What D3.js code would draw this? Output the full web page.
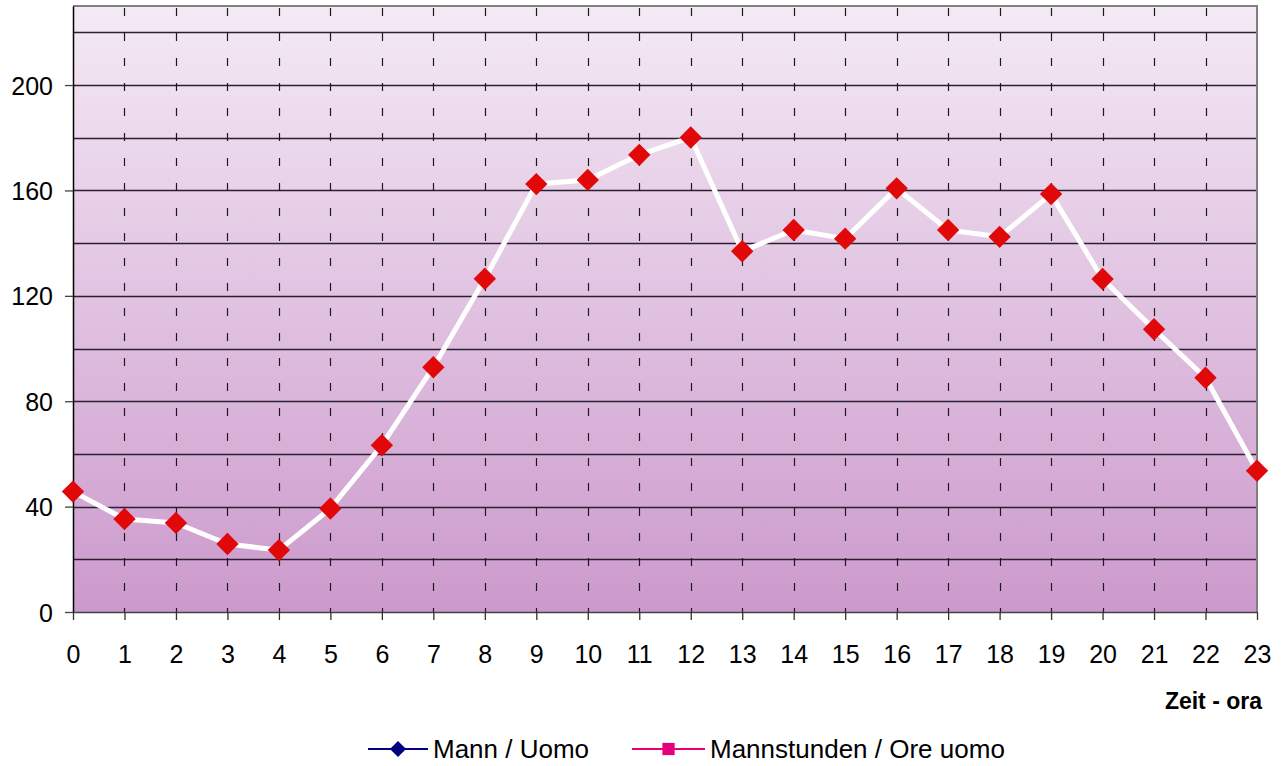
<!DOCTYPE html>
<html>
<head>
<meta charset="utf-8">
<script src="https://cdn.jsdelivr.net/npm/d3@7"></script>
<style>
  html, body { margin: 0; padding: 0; background: #ffffff; }
  svg { display: block; font-family: "Liberation Sans", Arial, sans-serif; }
</style>
</head>
<body>
<svg id="chart" width="1286" height="766"></svg>
<script>
// Hours of the day (x categories)
const hours = d3.range(0, 24).map(String);
// Values per hour
const values = [45.7, 35.3, 33.8, 25.8, 23.5, 39.3, 63.3, 92.9, 126.5, 162.4, 164, 173.5,
                180.1, 136.9, 145, 141.7, 160.8, 145, 142.4, 158.6, 126.4, 107.3, 88.9, 53.6];
// Y axis labels and gridlines
const yTickLabels = [0, 40, 80, 120, 160, 200];
const yGridValues = [20, 40, 60, 80, 100, 120, 140, 160, 180, 200, 220];
const legendItems = [
  { label: "Mann / Uomo", color: "#000080", shape: "diamond" },
  { label: "Mannstunden / Ore uomo", color: "#e6007e", shape: "square" }
];

const svg = d3.select("#chart");
const plot = { left: 73, right: 1257, top: 6, bottom: 612 };

const x = d3.scalePoint().domain(hours).range([plot.left, plot.right]);
const y = d3.scaleLinear().domain([0, 230]).range([plot.bottom, plot.top]);

// Background gradient
const defs = svg.append("defs");
const grad = defs.append("linearGradient")
  .attr("id", "bg").attr("x1", 0).attr("y1", 0).attr("x2", 0).attr("y2", 1);
grad.append("stop").attr("offset", "0%").attr("stop-color", "#f4eaf5");
grad.append("stop").attr("offset", "100%").attr("stop-color", "#cc99cc");

svg.append("rect")
  .attr("x", plot.left).attr("y", plot.top)
  .attr("width", plot.right - plot.left).attr("height", plot.bottom - plot.top)
  .attr("fill", "url(#bg)");

// Horizontal gridlines
svg.append("g").selectAll("line").data(yGridValues).join("line")
  .attr("x1", plot.left).attr("x2", plot.right)
  .attr("y1", d => Math.round(y(d)) + 0.5).attr("y2", d => Math.round(y(d)) + 0.5)
  .attr("stroke", "#2a2030").attr("stroke-width", 1.3);

// Vertical dashed gridlines
svg.append("g").selectAll("line").data(hours.slice(1, -1)).join("line")
  .attr("x1", d => Math.round(x(d)) + 0.5).attr("x2", d => Math.round(x(d)) + 0.5)
  .attr("y1", plot.top + 2).attr("y2", plot.bottom)
  .attr("stroke", "#1a1a1a").attr("stroke-width", 1.2)
  .attr("stroke-dasharray", "8,17");

// Frame: top and right in grey
svg.append("path")
  .attr("d", `M${plot.left},${plot.top}H${plot.right}V${plot.bottom}`)
  .attr("fill", "none").attr("stroke", "#808080").attr("stroke-width", 2);

// Y axis
const yAxis = d3.axisLeft(y).tickValues(yTickLabels).tickSize(8).tickSizeOuter(0).tickPadding(12);
const gy = svg.append("g").attr("transform", `translate(${plot.left},0)`).call(yAxis);
gy.select(".domain").attr("stroke", "#000").attr("stroke-width", 1.5);
gy.selectAll(".tick line").attr("stroke", "#444").attr("stroke-width", 1.3);
gy.selectAll(".tick text").attr("font-size", 25).attr("fill", "#000")
  .attr("font-family", "Liberation Sans, Arial, sans-serif").attr("dy", "0.36em");

// X axis
const xAxis = d3.axisBottom(x).tickSize(8).tickSizeOuter(0).tickPadding(25);
const gx = svg.append("g").attr("transform", `translate(0,${plot.bottom})`).call(xAxis);
gx.select(".domain").attr("stroke", "#444").attr("stroke-width", 1.5);
gx.selectAll(".tick line").attr("stroke", "#333").attr("stroke-width", 1.3);
gx.selectAll(".tick text").attr("font-size", 25).attr("fill", "#000")
  .attr("font-family", "Liberation Sans, Arial, sans-serif");

// X axis title
svg.append("text")
  .attr("x", 1262).attr("y", 709)
  .attr("text-anchor", "end")
  .attr("font-size", 23).attr("font-weight", "bold")
  .text("Zeit - ora");

// Data line
const line = d3.line().x((d, i) => x(hours[i])).y(d => y(d));
svg.append("path")
  .datum(values)
  .attr("d", line)
  .attr("fill", "none").attr("stroke", "#ffffff").attr("stroke-width", 5)
  .attr("stroke-linejoin", "round");

// Diamond markers
const diamond = d3.symbol().type(d3.symbolSquare).size(250);
svg.append("g").selectAll("path").data(values).join("path")
  .attr("d", diamond)
  .attr("transform", (d, i) => `translate(${x(hours[i])},${y(d)}) rotate(45)`)
  .attr("fill", "#e00808");

// Legend
const legendPos = [{ lx: 368, tx: 433 }, { lx: 632, tx: 710 }];
const legendY = 749;
const lg = svg.append("g");
legendItems.forEach((item, i) => {
  const p = legendPos[i];
  const x0 = p.lx, x1 = p.tx - 5;
  lg.append("line").attr("x1", x0).attr("x2", x1)
    .attr("y1", legendY).attr("y2", legendY)
    .attr("stroke", item.color).attr("stroke-width", 2);
  const cx = (x0 + x1) / 2;
  if (item.shape === "diamond") {
    lg.append("path").attr("d", d3.symbol().type(d3.symbolSquare).size(130))
      .attr("transform", `translate(${cx},${legendY}) rotate(45)`)
      .attr("fill", item.color);
  } else {
    lg.append("path").attr("d", d3.symbol().type(d3.symbolSquare).size(150))
      .attr("transform", `translate(${cx},${legendY})`)
      .attr("fill", item.color);
  }
  lg.append("text").attr("x", p.tx).attr("y", legendY + 9)
    .attr("font-size", 26).attr("fill", "#000")
    .text(item.label);
});
</script>
</body>
</html>
